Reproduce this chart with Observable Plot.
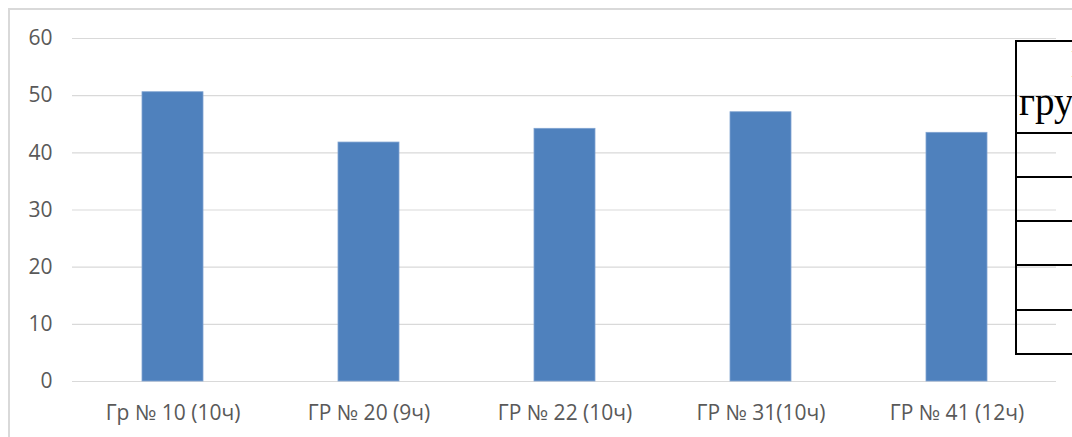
<!DOCTYPE html>
<html>
<head>
<meta charset="utf-8">
<script src="https://cdn.jsdelivr.net/npm/d3@7"></script>
<script src="https://cdn.jsdelivr.net/npm/@observablehq/plot@0.6"></script>
<style>
  html, body { margin: 0; padding: 0; background: #fff; overflow: hidden; }
  #wrap { position: relative; width: 1072px; height: 437px; overflow: hidden; }
  #frame { position: absolute; left: 8px; top: 8px; width: 1200px; height: 600px;
           border-left: 2px solid #d9d9d9; border-top: 2px solid #d9d9d9; pointer-events: none; }
  #tbl { position: absolute; left: 1015px; top: 40px; width: 200px; border-collapse: collapse;
         font-family: "Liberation Serif", "Times New Roman", serif; font-size: 39px; color: #000; }
  #tbl td { border: 2px solid #000; padding: 0 0 0 2px; white-space: nowrap; vertical-align: middle; line-height: 38px; }
  #tbl td.hdr { vertical-align: top; padding-top: 3px; }
  #chart { position: absolute; left: 0; top: 0; }
</style>
</head>
<body>
<div id="wrap">
  <div id="frame"></div>
  <div id="chart"></div>
  <table id="tbl">
    <tr style="height:92px"><td class="hdr"><span style="padding-left:52px">Номер</span><br>группы</td></tr>
    <tr style="height:44px"><td></td></tr>
    <tr style="height:44px"><td style="padding-left:54px">10</td></tr>
    <tr style="height:44px"><td style="padding-left:54px">20</td></tr>
    <tr style="height:45px"><td style="padding-left:54px">22</td></tr>
    <tr style="height:44px"><td style="padding-left:54px">31</td></tr>
  </table>
</div>
<script>
const categories = ["Гр № 10 (10ч)", "ГР № 20 (9ч)", "ГР № 22 (10ч)", "ГР № 31(10ч)", "ГР № 41 (12ч)"];
const values = [50.6, 41.8, 44.2, 47.1, 43.5];
const yTicks = [0, 10, 20, 30, 40, 50, 60];

const data = categories.map((c, i) => ({category: c, value: values[i]}));

const chart = Plot.plot({
  width: 1072,
  height: 437,
  marginLeft: 72,
  marginRight: 16,
  marginTop: 38,
  marginBottom: 56,
  style: {background: "transparent", fontFamily: "'Open Sans', sans-serif"},
  x: {domain: categories, paddingInner: 0.69, paddingOuter: 0.345, label: null},
  y: {domain: [0, 60], label: null},
  marks: [
    Plot.ruleY(yTicks, {stroke: "#d9d9d9", strokeWidth: 1.2}),
    Plot.barY(data, {x: "category", y: "value", fill: "#4f81bd", stroke: "#7fa3d1", strokeWidth: 0.8}),
    Plot.axisY(yTicks, {tickSize: 0, tickPadding: 20, fontSize: 21, fill: "#595959", label: null}),
    Plot.axisX({tickSize: 0, tickPadding: 24, fontSize: 21, fill: "#595959", label: null})
  ]
});
document.getElementById("chart").appendChild(chart);
</script>
</body>
</html>
